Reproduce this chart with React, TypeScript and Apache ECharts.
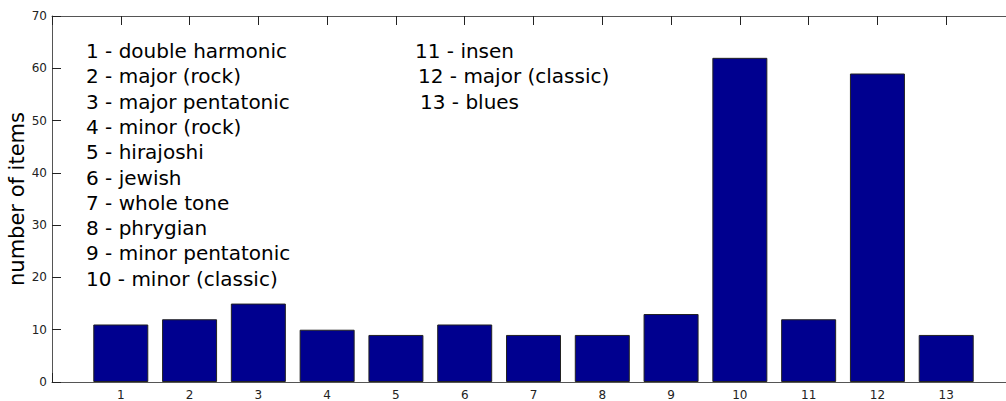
import React, { useEffect, useRef } from "react";
import * as echarts from "echarts";

const positions = [1, 2, 3, 4, 5, 6, 7, 8, 9, 10, 11, 12, 13];
const counts = [11, 12, 15, 10, 9, 11, 9, 9, 13, 62, 12, 59, 9];
const yAxisTitle = "number of items";
const legendLeft = [
  "1 - double harmonic",
  "2 - major (rock)",
  "3 - major pentatonic",
  "4 - minor (rock)",
  "5 - hirajoshi",
  "6 - jewish",
  "7 - whole tone",
  "8 - phrygian",
  "9 - minor pentatonic",
  "10 - minor (classic)",
];
const legendRight = ["11 - insen", "12 - major (classic)", "13 - blues"];
const rightOffsets = [0, 3, 5];

export default function App() {
  const ref = useRef<HTMLDivElement>(null);
  useEffect(() => {
    const el = ref.current!;
    const chart = echarts.init(el, null, { renderer: "svg" });
    const font = "DejaVu Sans";
    const axisColor = "#555555";
    const labelStyle = { color: "#222", fontFamily: font, fontSize: 12 };
    const texts: any[] = [];
    legendLeft.forEach((t, i) => {
      texts.push({
        type: "text",
        left: 86,
        top: 41 + i * 25.3,
        style: { text: t, fontFamily: font, fontSize: 20, fill: "#000" },
      });
    });
    legendRight.forEach((t, i) => {
      texts.push({
        type: "text",
        left: 415 + rightOffsets[i],
        top: 41 + i * 25.3,
        style: { text: t, fontFamily: font, fontSize: 20, fill: "#000" },
      });
    });
    texts.push({
      type: "text",
      x: 17,
      y: 199,
      rotation: Math.PI / 2,
      style: {
        text: yAxisTitle,
        fontFamily: font,
        fontSize: 21,
        fill: "#000",
        align: "center",
        verticalAlign: "middle",
      },
    });
    chart.setOption({
      animation: false,
      grid: {
        left: 52,
        top: 16,
        width: 963,
        height: 366,
        containLabel: false,
        outerBoundsMode: "none",
      },
      xAxis: [
        {
          type: "value",
          min: 0,
          max: 14,
          interval: 1,
          position: "bottom",
          splitLine: { show: false },
          axisLine: { show: true, onZero: false, lineStyle: { color: axisColor } },
          axisTick: { show: true, inside: true, length: 9, lineStyle: { color: "#222" } },
          axisLabel: {
            ...labelStyle,
            margin: 7,
            formatter: (v: number) => (v >= 1 && v <= 13 ? String(v) : ""),
          },
        },
        {
          type: "value",
          min: 0,
          max: 14,
          interval: 1,
          position: "top",
          splitLine: { show: false },
          axisLine: { show: true, onZero: false, lineStyle: { color: axisColor } },
          axisTick: {
            show: true,
            inside: true,
            length: 9,
            lineStyle: { color: "#222" },
          },
          axisLabel: { show: false },
        },
      ],
      yAxis: {
        type: "value",
        min: 0,
        max: 70,
        interval: 10,
        splitLine: { show: false },
        axisLine: { show: true, lineStyle: { color: axisColor } },
        axisTick: { show: true, inside: true, length: 9, lineStyle: { color: "#222" } },
        axisLabel: { ...labelStyle, margin: 5 },
      },
      series: [
        {
          type: "bar",
          xAxisIndex: 0,
          data: positions.map((p, i) => [p, counts[i]]),
          barWidth: 55,
          itemStyle: { color: "#00008F", borderColor: "#222", borderWidth: 1 },
        },
      ],
      graphic: texts,
    });
    return () => chart.dispose();
  }, []);
  return (
    <div
      style={{ position: "absolute", left: 0, top: 0, width: 1006, height: 401, overflow: "hidden", background: "#fff" }}
    >
      <div ref={ref} style={{ width: 1030, height: 401 }} />
    </div>
  );
}
